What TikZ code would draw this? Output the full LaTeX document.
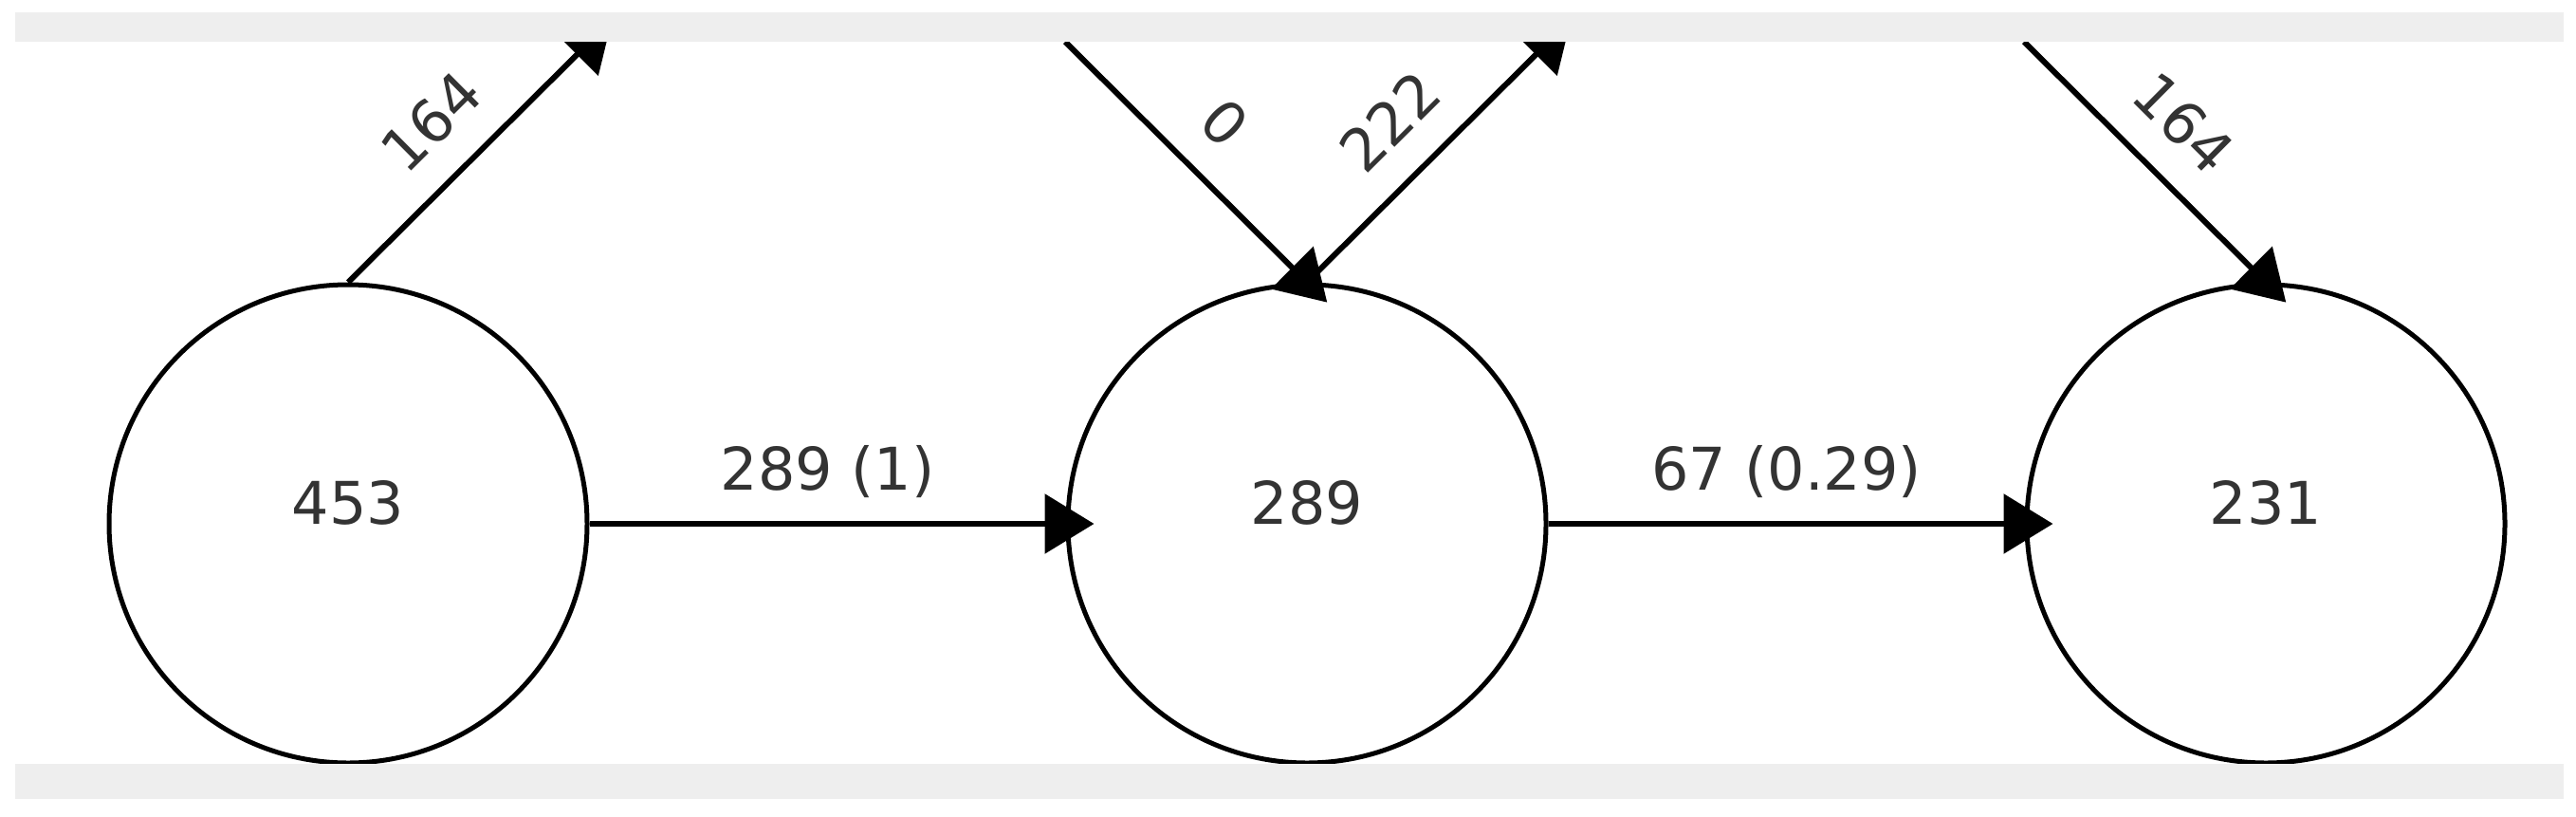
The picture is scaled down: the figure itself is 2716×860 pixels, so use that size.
\documentclass[tikz,border=0pt]{standalone}
\usepackage{fontspec}
\setmainfont{DejaVu Sans}
\usetikzlibrary{arrows.meta}
\definecolor{band}{HTML}{EEEEEE}
\definecolor{txt}{HTML}{333333}
\begin{document}
\begin{tikzpicture}[x=1pt,y=-1pt,
  stat/.style={circle, draw=black, line width=5pt, minimum size=504pt, inner sep=0pt},
  nodetext/.style={anchor=base, inner sep=0pt, text=txt, font=\fontsize{62}{74}\selectfont},
  edge/.style={draw=black, line width=6pt, -{Triangle[length=52pt,width=62pt]}, shorten >=-30pt},
  elabel/.style={midway, sloped, above=33pt, inner sep=0pt, text depth=0pt, text=txt, font=\fontsize{62}{74}\selectfont},
  bandbox/.style={fill=band, draw=none}]
\useasboundingbox (0,0) rectangle (2716,860);
\fill[white] (0,0) rectangle (2716,860);
% nodes
\node[stat] (n1) at (367,552) {};
\node[stat] (n2) at (1378,552) {};
\node[stat] (n3) at (2389,552) {};
\node[nodetext] (t1) at (n1.center) {453};
\node[nodetext] (t2) at (n2.center) {289};
\node[nodetext] (t3) at (n3.center) {231};
% free ends
\coordinate (e1) at (624,42);
\coordinate (s2) at (1123,44);
\coordinate (e2) at (1635,42);
\coordinate (s3) at (2134,44);
% connectors
\draw[edge] (n1) -- node[elabel] (l12) {289 (1)} (n2);
\draw[edge] (n2) -- node[elabel] (l23) {67 (0.29)} (n3);
\draw[edge] (n1.north) -- node[elabel] (la) {164} (e1);
\draw[edge] (s2) -- node[elabel] (lb) {0} (n2.north);
\draw[edge] (n2.north) -- node[elabel] (lc) {222} (e2);
\draw[edge] (s3) -- node[elabel] (ld) {164} (n3.north);
% frame bands
\fill[bandbox] (16,13) rectangle (2703,44);
\fill[bandbox] (16,805) rectangle (2703,842);
\end{tikzpicture}
\end{document}
